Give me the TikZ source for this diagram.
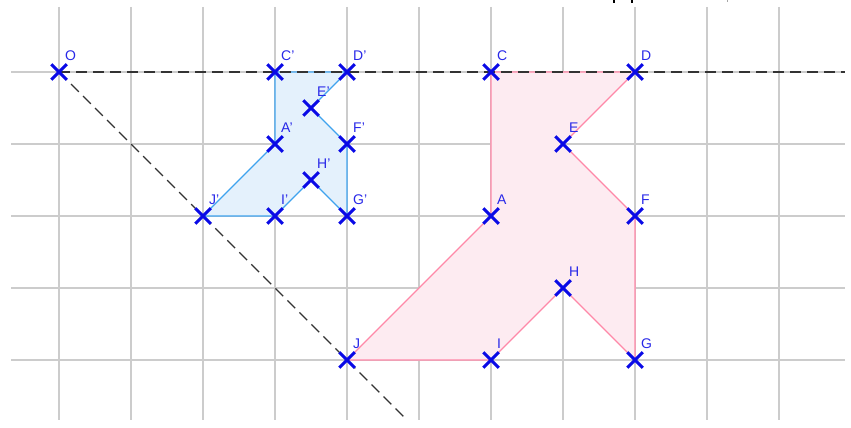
\documentclass[tikz,border=0pt]{standalone}
\usepackage{fontspec}
\setmainfont{Liberation Sans}
\usetikzlibrary{shapes.misc}
\definecolor{gridc}{HTML}{CCCCCC}
\definecolor{bluefill}{HTML}{E4F1FC}
\definecolor{bluestroke}{HTML}{3FA3EE}
\definecolor{redfill}{HTML}{FDEBF1}
\definecolor{redstroke}{HTML}{FF88A8}
\definecolor{ptc}{HTML}{0A0AE6}
\definecolor{labc}{HTML}{2828E8}
\definecolor{dashc}{HTML}{333333}
\tikzset{
  gridline/.style={draw=gridc, line width=1.4pt},
  dashline/.style={draw=dashc, line width=1.4pt, dash pattern=on 11pt off 6pt},
  bluepoly/.style={draw=bluestroke, line width=1.2pt, line join=miter},
  redpoly/.style={draw=redstroke, line width=1.2pt, line join=miter},
  ptx/.style={cross out, draw=ptc, line width=3pt, minimum size=12.5pt, inner sep=0pt},
  lbl/.style={font=\fontsize{14}{14}\selectfont, text=labc, anchor=base west, inner sep=0pt},
}
\begin{document}
\begin{tikzpicture}[x=1pt,y=-1pt]
\useasboundingbox (0,0) rectangle (851,428);
% grid
\foreach \gx in {59,131,203,275,347,419,491,563,635,707,779}
  \draw[gridline] (\gx,7) -- (\gx,420);
\foreach \gy in {72,144,216,288,360}
  \draw[gridline] (11,\gy) -- (845,\gy);
% points
\coordinate (O) at (59,72);
\coordinate (C1) at (275,72);
\coordinate (D1) at (347,72);
\coordinate (E1) at (311,108);
\coordinate (A1) at (275,144);
\coordinate (F1) at (347,144);
\coordinate (H1) at (311,180);
\coordinate (J1) at (203,216);
\coordinate (I1) at (275,216);
\coordinate (G1) at (347,216);
\coordinate (C) at (491,72);
\coordinate (D) at (635,72);
\coordinate (E) at (563,144);
\coordinate (A) at (491,216);
\coordinate (F) at (635,216);
\coordinate (H) at (563,288);
\coordinate (J) at (347,360);
\coordinate (I) at (491,360);
\coordinate (G) at (635,360);
\coordinate (hend) at (845,72);
\coordinate (dend) at (405,418);
% polygons
\fill[redfill] (C) -- (D) -- (E) -- (F) -- (G) -- (H) -- (I) -- (J) -- (A) -- cycle;
\fill[bluefill] (C1) -- (D1) -- (E1) -- (F1) -- (G1) -- (H1) -- (I1) -- (J1) -- (A1) -- cycle;
\draw[redpoly] (C) -- (D) -- (E) -- (F) -- (G) -- (H) -- (I) -- (J) -- (A) -- cycle;
\draw[bluepoly] (C1) -- (D1) -- (E1) -- (F1) -- (G1) -- (H1) -- (I1) -- (J1) -- (A1) -- cycle;
% dashed lines
\draw[dashline] (O) -- (hend);
\draw[dashline] (O) -- (dend);
% cut-off text at the top
\fill[black] (612.5,0) rectangle (614.5,3.5);
\fill[black] (630.5,0) rectangle (632.5,3.5);
\fill[gray!70] (726.5,0) rectangle (727.5,2);
% crosses
\foreach \p in {O,C1,D1,E1,A1,F1,H1,J1,I1,G1,C,D,E,A,F,H,J,I,G}
  \node[ptx] (x\p) at (\p) {};
% labels
\node[lbl] (lO) at ([shift={(6,-12)}]O) {O};
\node[lbl] (lC1) at ([shift={(6,-12)}]C1) {C'};
\node[lbl] (lD1) at ([shift={(6,-12)}]D1) {D'};
\node[lbl] (lE1) at ([shift={(6,-12)}]E1) {E'};
\node[lbl] (lA1) at ([shift={(6,-12)}]A1) {A'};
\node[lbl] (lF1) at ([shift={(6,-12)}]F1) {F'};
\node[lbl] (lH1) at ([shift={(6,-12)}]H1) {H'};
\node[lbl] (lJ1) at ([shift={(6,-12)}]J1) {J'};
\node[lbl] (lI1) at ([shift={(6,-12)}]I1) {I'};
\node[lbl] (lG1) at ([shift={(6,-12)}]G1) {G'};
\node[lbl] (lC) at ([shift={(6,-12)}]C) {C};
\node[lbl] (lD) at ([shift={(6,-12)}]D) {D};
\node[lbl] (lE) at ([shift={(6,-12)}]E) {E};
\node[lbl] (lA) at ([shift={(6,-12)}]A) {A};
\node[lbl] (lF) at ([shift={(6,-12)}]F) {F};
\node[lbl] (lH) at ([shift={(6,-12)}]H) {H};
\node[lbl] (lJ) at ([shift={(6,-12)}]J) {J};
\node[lbl] (lI) at ([shift={(6,-12)}]I) {I};
\node[lbl] (lG) at ([shift={(6,-12)}]G) {G};
\end{tikzpicture}
\end{document}
